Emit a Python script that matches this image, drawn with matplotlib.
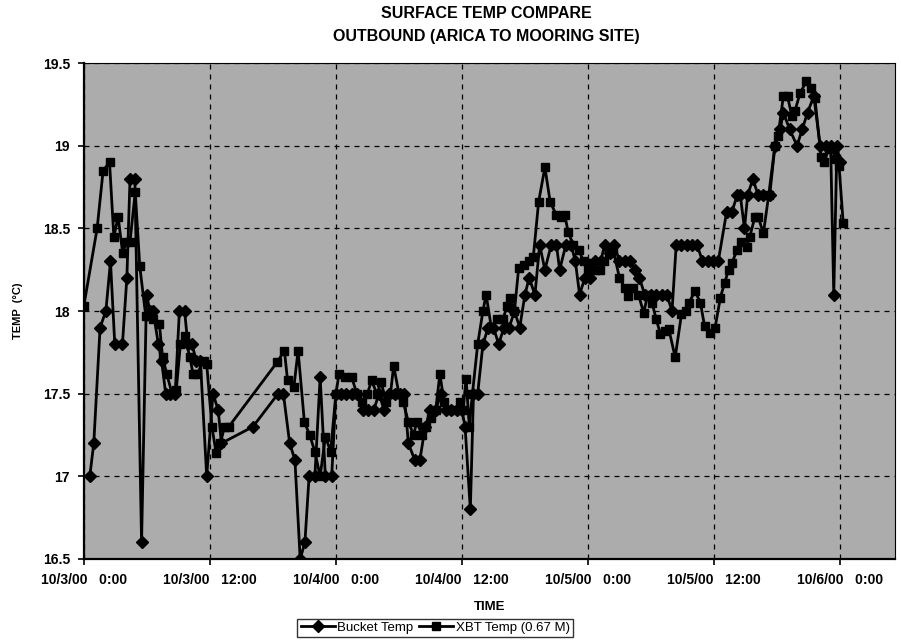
import numpy as np
import matplotlib
matplotlib.use("Agg")
import matplotlib.pyplot as plt

plt.rcParams['font.family'] = ['Liberation Sans', 'DejaVu Sans']

# hours after 10/3/00 0:00
bucket_hours = [0.57, 0.95, 1.55, 2.1, 2.54, 2.95, 3.68, 4.1, 4.4, 4.86, 5.5, 5.97,
                6.3, 6.6, 7.1, 7.4, 7.8, 8.2, 8.7, 9.1, 9.6, 9.9, 10.3, 10.7, 11.1,
                11.7, 12.3, 12.8, 13.1, 16.1, 18.5, 19.0, 19.6, 20.1, 20.6, 21.05,
                21.45, 22.0, 22.5, 23.0, 23.6, 24.0, 24.5, 25.0, 25.5, 26.0, 26.6,
                27.1, 27.6, 28.1, 28.6, 29.1, 29.6, 30.1, 30.5, 30.9, 31.5, 32.0,
                32.5, 33.0, 33.5, 34.0, 34.5, 35.0, 35.5, 36.0, 36.3, 36.8, 37.1,
                37.5, 38.0, 38.5, 39.0, 39.5, 40.0, 40.5, 41.0, 41.5, 42.0, 42.4,
                42.95, 43.4, 43.9, 44.5, 45.0, 45.3, 45.9, 46.4, 46.8, 47.2, 47.7,
                48.2, 48.7, 49.2, 49.6, 50.1, 50.5, 51.0, 51.5, 52.0, 52.5, 52.9,
                53.4, 54.0, 54.5, 55.0, 55.5, 56.0, 56.4, 56.9, 57.4, 57.9, 58.4,
                58.9, 59.4, 59.9, 60.4, 61.2, 61.7, 62.2, 62.5, 62.9, 63.2, 63.7,
                64.2, 64.7, 65.3, 65.8, 66.3, 66.6, 67.2, 67.9, 68.4, 68.9, 69.5,
                70.1, 70.7, 71.1, 71.4, 71.7, 72.0]
bucket_temp = [17.0, 17.2, 17.9, 18.0, 18.3, 17.8, 17.8, 18.2, 18.8, 18.8, 16.6, 18.1,
               18.0, 18.0, 17.8, 17.7, 17.5, 17.5, 17.5, 18.0, 18.0, 17.8, 17.8, 17.7, 17.7,
               17.0, 17.5, 17.4, 17.2, 17.3, 17.5, 17.5, 17.2, 17.1, 16.5, 16.6,
               17.0, 17.0, 17.6, 17.0, 17.0, 17.5, 17.5, 17.5, 17.5, 17.5, 17.4,
               17.4, 17.4, 17.5, 17.4, 17.5, 17.5, 17.5, 17.5, 17.2, 17.1, 17.1,
               17.3, 17.4, 17.4, 17.5, 17.4, 17.4, 17.4, 17.4, 17.3, 16.8, 17.5,
               17.5, 17.8, 17.9, 17.9, 17.8, 17.9, 17.9, 18.0, 17.9, 18.1, 18.2,
               18.1, 18.4, 18.25, 18.4, 18.4, 18.25, 18.4, 18.4, 18.3, 18.1, 18.2,
               18.2, 18.3, 18.3, 18.4, 18.35, 18.4, 18.3, 18.3, 18.3, 18.25, 18.2,
               18.1, 18.1, 18.1, 18.1, 18.1, 18.0, 18.4, 18.4, 18.4, 18.4, 18.4,
               18.3, 18.3, 18.3, 18.3, 18.6, 18.6, 18.7, 18.7, 18.5, 18.7, 18.8,
               18.7, 18.7, 18.7, 19.0, 19.1, 19.2, 19.1, 19.0, 19.1, 19.2, 19.3,
               19.0, 19.0, 19.0, 18.1, 19.0, 18.9]

xbt_hours = [0.0, 1.27, 1.84, 2.45, 2.86, 3.27, 3.7, 4.05, 4.4, 4.9, 5.33, 5.9, 6.13,
             6.6, 7.2, 7.5, 7.9, 8.4, 8.8, 9.2, 9.6, 10.1, 10.4, 10.8, 11.4, 11.7,
             12.2, 12.6, 13.0, 13.4, 13.8, 18.4, 19.1, 19.4, 20.0, 20.4, 21.0, 21.5,
             22.0, 22.5, 23.0, 23.5, 24.0, 24.3, 24.9, 25.5, 26.0, 26.5, 27.0, 27.4,
             27.9, 28.3, 28.8, 29.2, 29.5, 30.0, 30.4, 30.9, 31.4, 31.7, 32.2, 32.6,
             33.1, 33.5, 33.9, 34.3, 34.8, 35.3, 35.8, 36.1, 36.4, 36.7, 37.0, 37.5,
             38.0, 38.3, 38.8, 39.3, 39.9, 40.3, 40.6, 41.0, 41.4, 41.9, 42.4, 42.8,
             43.3, 43.9, 44.4, 45.0, 45.4, 45.8, 46.1, 46.6, 47.1, 47.6, 48.0, 48.4,
             48.8, 49.1, 49.5, 50.0, 50.4, 51.0, 51.5, 51.8, 52.3, 52.8, 53.3, 53.7,
             54.1, 54.5, 54.9, 55.3, 55.7, 56.3, 56.9, 57.3, 57.6, 58.2, 58.7, 59.1,
             59.6, 60.1, 60.6, 61.0, 61.4, 61.7, 62.2, 62.6, 63.1, 63.4, 63.9, 64.2,
             64.7, 65.2, 65.8, 66.1, 66.6, 67.0, 67.4, 67.7, 68.2, 68.8, 69.2, 69.6,
             70.2, 70.5, 70.9, 71.3, 71.6, 71.9, 72.3]
xbt_temp = [18.03, 18.5, 18.85, 18.9, 18.45, 18.57, 18.35, 18.42, 18.42, 18.72, 18.27,
            17.97, 17.97, 17.95, 17.92, 17.72, 17.62, 17.5, 17.52, 17.8, 17.85, 17.72,
            17.62, 17.62, 17.7, 17.68, 17.3, 17.14, 17.2, 17.3, 17.3, 17.69, 17.76,
            17.58, 17.54, 17.76, 17.33, 17.25, 17.15, 17.0, 17.24, 17.15, 17.5, 17.62,
            17.6, 17.6, 17.5, 17.45, 17.5, 17.58, 17.5, 17.57, 17.45, 17.5, 17.67,
            17.5, 17.45, 17.33, 17.25, 17.33, 17.25, 17.3, 17.35, 17.4, 17.62, 17.45,
            17.4, 17.4, 17.45, 17.4, 17.59, 17.3, 17.5, 17.8, 18.0, 18.1, 17.9, 17.95,
            17.95, 18.03, 18.08, 18.0, 18.26, 18.28, 18.3, 18.33, 18.66, 18.87, 18.66,
            18.58, 18.57, 18.58, 18.48, 18.4, 18.37, 18.3, 18.25, 18.29, 18.25, 18.25,
            18.3, 18.35, 18.37, 18.2, 18.14, 18.09, 18.14, 18.1, 17.99, 18.1, 18.05,
            17.95, 17.86, 17.88, 17.89, 17.72, 17.98, 18.0, 18.05, 18.12, 18.05, 17.91,
            17.87, 17.9, 18.08, 18.17, 18.25, 18.29, 18.37, 18.42, 18.39, 18.45, 18.57,
            18.57, 18.47, 18.7, 19.0, 19.06, 19.3, 19.3, 19.18, 19.21, 19.32, 19.39,
            19.35, 19.29, 18.93, 18.9, 18.98, 18.98, 18.92, 18.88, 18.53]

tick_hours = [0, 12, 24, 36, 48, 60, 72]
tick_labels = ["10/3/00   0:00", "10/3/00   12:00", "10/4/00   0:00", "10/4/00   12:00",
               "10/5/00   0:00", "10/5/00   12:00", "10/6/00   0:00"]
y_ticks = [16.5, 17, 17.5, 18, 18.5, 19, 19.5]

fig = plt.figure(figsize=(9.01, 6.44), dpi=100)
ax = fig.add_axes([0.093, 0.132, 0.900, 0.770])
ax.set_facecolor('#acacac')

ax.plot(bucket_hours, bucket_temp, color='black', lw=2.0, marker='D', ms=6.5,
        label='Bucket Temp')
ax.plot(xbt_hours, xbt_temp, color='black', lw=2.0, marker='s', ms=6,
        label='XBT Temp (0.67 M)')

ax.set_xlim(0, 77.2)
ax.set_ylim(16.5, 19.5)
ax.set_xticks(tick_hours)
ax.set_xticklabels(tick_labels, fontsize=10, fontweight='bold')
ax.set_yticks(y_ticks)
ax.set_yticklabels(['16.5', '17', '17.5', '18', '18.5', '19', '19.5'],
                   fontsize=10, fontweight='bold')
ax.tick_params(direction='out', length=4, width=1.2, pad=6)
ax.grid(True, color='black', linestyle=(0, (4, 4)), linewidth=0.9)
for s in ['left', 'bottom']:
    ax.spines[s].set_linewidth(1.6)
for s in ['top', 'right']:
    ax.spines[s].set_linewidth(0.8)

ax.set_xlabel('TIME', fontsize=9.5, fontweight='bold', labelpad=10)
ax.set_ylabel('TEMP  (°C)', fontsize=8, fontweight='bold', labelpad=14)
fig.suptitle('SURFACE TEMP COMPARE\nOUTBOUND (ARICA TO MOORING SITE)',
             fontsize=11.5, fontweight='bold', y=0.99, x=0.54, linespacing=1.6)

leg = fig.legend(loc='lower center', bbox_to_anchor=(0.483, 0.0), ncol=2,
                 fontsize=9.5, frameon=True, fancybox=False, edgecolor='black',
                 handlelength=2.6, handletextpad=0.2, columnspacing=0.4,
                 borderpad=0.25, markerscale=0.9)
leg.get_frame().set_linewidth(1.0)

fig.savefig('out.png', dpi=100)
